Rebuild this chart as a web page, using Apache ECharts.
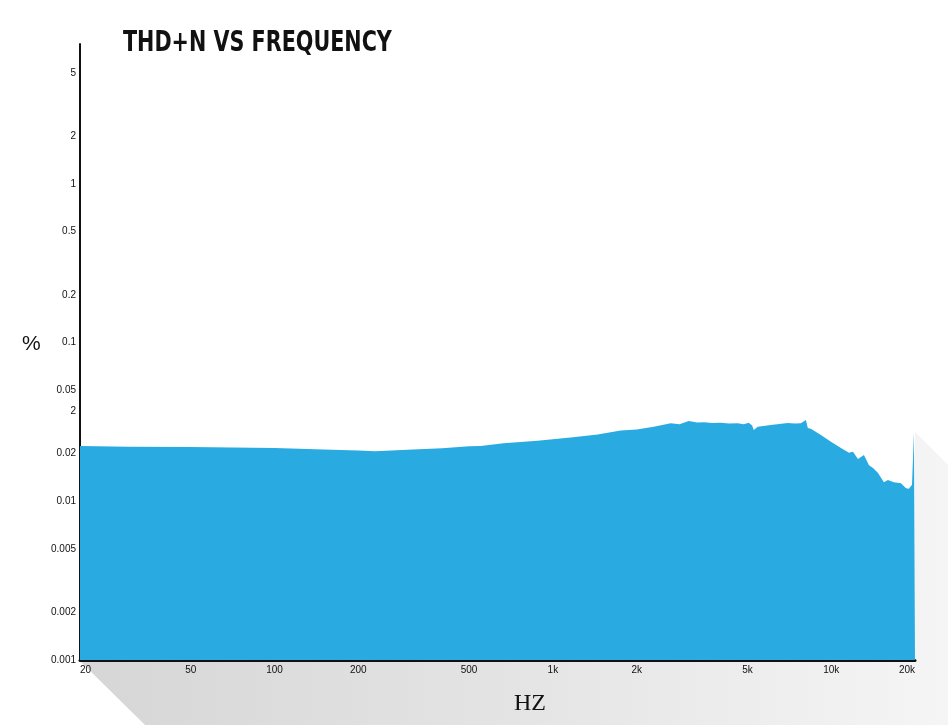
<!DOCTYPE html>
<html>
<head>
<meta charset="utf-8">
<script src="https://cdn.jsdelivr.net/npm/echarts@6/dist/echarts.min.js"></script>
<style>
html,body{margin:0;padding:0;background:#fff;}
#chart{width:948px;height:725px;}
</style>
</head>
<body>
<div id="chart"></div>
<script>
// ---- data ----
const chartTitle = 'THD+N VS FREQUENCY';
const freqHz = [20, 30, 50, 100, 150, 200, 230, 300, 400, 500, 550, 665, 881, 1158, 1449, 1752, 2000, 2304, 2650, 2850, 3076, 3300, 3484, 3750, 4010, 4300, 4614, 4850, 5054, 5200, 5270, 5446, 6068, 6500, 6986, 7400, 7780, 8110, 8240, 8450, 9180, 9980, 10840, 11580, 11970, 12480, 13110, 13670, 14130, 14730, 15460, 15980, 16800, 17810, 18570, 19020, 19510, 19830, 20000];
const thdPct = [0.0223, 0.0221, 0.0220, 0.0217, 0.0212, 0.0209, 0.0207, 0.0211, 0.0216, 0.0222, 0.0223, 0.0232, 0.0241, 0.0252, 0.0264, 0.0279, 0.0283, 0.0295, 0.0310, 0.0306, 0.0321, 0.0314, 0.0315, 0.0311, 0.0313, 0.0309, 0.0310, 0.0306, 0.0313, 0.0300, 0.0281, 0.0295, 0.0302, 0.0307, 0.0311, 0.0309, 0.0310, 0.0325, 0.0290, 0.0286, 0.0262, 0.0237, 0.0217, 0.0202, 0.0205, 0.0185, 0.0196, 0.0169, 0.0162, 0.0151, 0.0132, 0.0136, 0.0132, 0.0130, 0.0121, 0.0120, 0.0127, 0.0272, 0.0274];
const xTickValues = [20, 50, 100, 200, 500, 1000, 2000, 5000, 10000, 20000];
const xTickLabels = ['20', '50', '100', '200', '500', '1k', '2k', '5k', '10k', '20k'];
const yTickValues = [0.001, 0.002, 0.005, 0.01, 0.02, 0.037, 0.05, 0.1, 0.2, 0.5, 1, 2, 5];
const yTickLabels = ['0.001', '0.002', '0.005', '0.01', '0.02', '2', '0.05', '0.1', '0.2', '0.5', '1', '2', '5'];
const xRange = [20, 20000];
const yRange = [0.001, 7.61];

// ---- build ----
const lg = Math.log10;
function labelFor(vals, labels) {
  return function (v) {
    for (let i = 0; i < vals.length; i++) {
      if (Math.abs(lg(vals[i]) - v) < 1e-6) return labels[i];
    }
    return '';
  };
}
const seriesData = freqHz.map((f, i) => [lg(f), lg(thdPct[i])]);

const chart = echarts.init(document.getElementById('chart'), null, {renderer: 'canvas'});
const labelFont = {fontFamily: 'Liberation Sans, Arial, sans-serif', fontSize: 10, color: '#111'};

chart.setOption({
  animation: false,
  backgroundColor: '#fff',
  grid: {left: 80, right: 33, top: 44, bottom: 65, containLabel: false},
  xAxis: {
    type: 'value',
    min: lg(xRange[0]),
    max: lg(xRange[1]),
    axisLine: {show: true, onZero: false, lineStyle: {color: '#111', width: 3}},
    axisTick: {show: false},
    splitLine: {show: false},
    axisLabel: Object.assign({
      customValues: xTickValues.map(lg),
      formatter: labelFor(xTickValues, xTickLabels),
      margin: 5,
      alignMinLabel: 'left',
      alignMaxLabel: 'right'
    }, labelFont)
  },
  yAxis: {
    type: 'value',
    min: lg(yRange[0]),
    max: lg(yRange[1]),
    axisLine: {show: true, onZero: false, lineStyle: {color: '#111', width: 2}},
    axisTick: {show: false},
    splitLine: {show: false},
    axisLabel: Object.assign({
      customValues: yTickValues.map(lg),
      formatter: labelFor(yTickValues, yTickLabels),
      margin: 4,
      showMinLabel: true,
      showMaxLabel: true
    }, labelFont)
  },
  series: [{
    type: 'line',
    data: seriesData,
    symbol: 'none',
    smooth: false,
    lineStyle: {width: 0, color: '#29abe2'},
    areaStyle: {color: '#29abe2', opacity: 1, origin: 'start'},
    z: 3
  }]
});

// decorative long shadow computed from the axes
const pBL = chart.convertToPixel({gridIndex: 0}, [lg(xRange[0]), lg(yRange[0])]);
const pBR = chart.convertToPixel({gridIndex: 0}, [lg(xRange[1]), lg(yRange[0])]);
const pEnd = chart.convertToPixel({gridIndex: 0}, seriesData[seriesData.length - 1]);
const W = 948, H = 725;
const drop = H - pBL[1];
chart.setOption({
  graphic: [
    {
      type: 'polygon',
      z: 0,
      silent: true,
      shape: {points: [
        [pBL[0], pBL[1] + 1],
        [pBL[0] + drop, H],
        [W, H],
        [W, pEnd[1] + (W - pEnd[0])],
        [pEnd[0], pEnd[1]],
        [pBR[0], pBR[1] + 1]
      ]},
      style: {fill: {type: 'linear', x: 0, y: 0, x2: 1, y2: 0, colorStops: [
        {offset: 0, color: '#d6d6d6'},
        {offset: 0.5, color: '#e4e4e4'},
        {offset: 1, color: '#f5f5f5'}
      ]}}
    },
    {
      type: 'text',
      x: 123, y: 44,
      scaleX: 1, scaleY: 1.25,
      originX: 0, originY: 0,
      style: {
        text: chartTitle,
        fontFamily: '"DejaVu Sans Condensed", "DejaVu Sans", sans-serif',
        fontWeight: 'bold',
        fontSize: 23,
        fill: '#111',
        align: 'left',
        verticalAlign: 'middle'
      }
    },
    {
      type: 'text',
      left: 22, top: 334,
      style: {text: '%', fontFamily: 'Liberation Sans, Arial, sans-serif', fontSize: 21, fill: '#111'}
    },
    {
      type: 'text',
      left: 514, top: 692,
      style: {text: 'HZ', fontFamily: 'Liberation Serif, Times New Roman, serif', fontSize: 24, fill: '#111'}
    }
  ]
});
</script>
</body>
</html>
